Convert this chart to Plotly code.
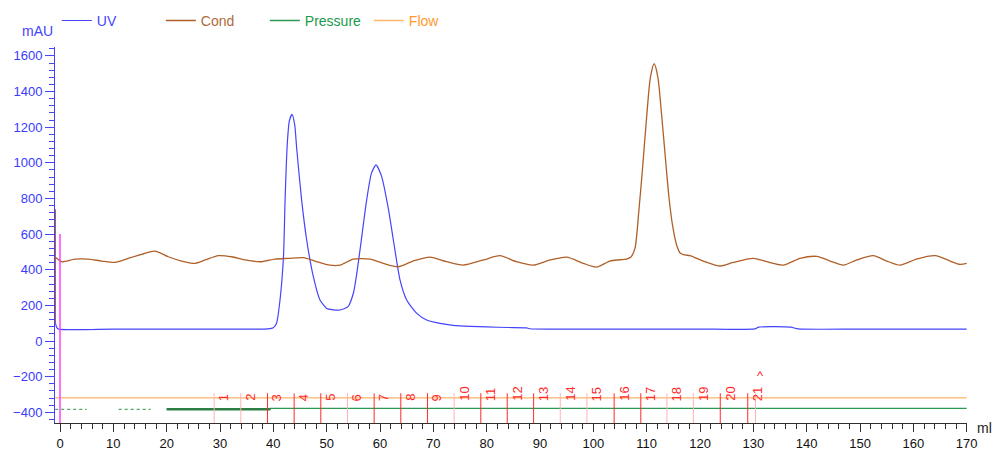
import plotly.graph_objects as go

# ---- UV absorbance trace (mAU) against elution volume (ml) ----
uv_x = [-0.9, -0.6, -0.3, 10.0, 20.0, 30.0, 37.5, 39.0, 40.0, 40.6, 41.25, 41.9, 42.2,
        42.6, 43.0, 43.5, 44.0, 44.4, 45.3, 46.25, 47.5, 48.75, 50.0, 51.0, 52.5, 54.0,
        55.0, 55.6, 56.25, 57.5, 58.4, 59.25, 60.3, 61.6, 62.5, 63.75, 65.0, 66.9, 68.75,
        71.25, 73.7, 77.0, 80.0, 84.0, 87.5, 88.0, 100.0, 110.0, 120.0, 130.3, 131.0,
        137.0, 138.4, 150.0, 160.0, 170.0]
uv_y = [105, 75, 67, 67, 67, 67, 67, 68, 75, 100, 230, 474, 790,
        1100, 1235, 1272, 1215, 1073, 792, 567, 361, 230, 183, 176, 174, 193,
        268, 370, 511, 792, 942, 989, 924, 736, 567, 343, 230, 155, 118,
        99, 88, 82, 79, 76, 74, 69, 67, 67, 67, 68, 78,
        78, 68, 67, 67, 67]

# ---- Conductivity trace ----
cond_start_x = [-0.9, -0.9]
cond_start_y = [740, 95]
cond_x = [-0.85, -0.6, 0.3, 2.8, 5.3, 7.8, 10.3, 12.8, 15.3, 17.8, 20.3, 22.8, 25.3,
          27.2, 29.7, 32.2, 34.7, 37.8, 40.3, 42.8, 45.6, 47.8, 50.6, 52.5, 55.0, 58.1,
          60.6, 63.4, 66.2, 69.4, 72.5, 75.6, 79.4, 82.5, 85.6, 88.7, 91.9, 95.0, 98.1,
          100.6, 103.1, 105.0, 106.2, 107.0, 107.8, 108.5, 109.2, 110.0, 110.7, 111.4,
          112.1, 112.8, 113.5, 114.2, 114.9, 115.6, 116.3, 117.2, 118.1, 120.6, 123.8,
          126.2, 130.0, 132.5, 135.6, 138.75, 141.9, 144.4, 146.9, 149.4, 152.5, 155.0,
          157.5, 160.6, 164.1, 166.9, 168.75, 170.0]
cond_y = [470, 464, 445, 460, 460, 449, 441, 464, 486, 505, 473, 449, 436,
          455, 479, 473, 455, 445, 460, 464, 468, 449, 426, 426, 460, 460,
          436, 417, 449, 471, 445, 426, 455, 479, 445, 426, 455, 471, 436,
          415, 449, 456, 460, 470, 520, 720, 960, 1260, 1480, 1556,
          1480, 1270, 1030, 800, 640, 540, 492, 483, 479, 449, 421,
          441, 464, 445, 426, 464, 475, 449, 426, 455, 479, 449,
          426, 460, 479, 449, 430, 436]

# ---- System pressure and flow ----
pressure_start_x = [-0.9, 5.0, None, 11.0, 17.0]
pressure_start_y = [-383, -383, None, -383, -383]
pressure_x = [20.0, 39.4, 39.4, 170.0]
pressure_y = [-383, -383, -378, -378]
flow_x = [-0.9, 170.0]
flow_y = [-319, -319]

# ---- Fraction collector marks ----
fraction_x = [28.9, 33.9, 38.9, 43.9, 48.9, 53.9, 58.9, 63.9, 68.9, 73.9, 78.9,
              83.85, 88.8, 93.8, 98.8, 103.9, 108.9, 113.8, 118.75, 123.8, 128.95]
fraction_labels = [str(n) for n in range(1, 22)]
fraction_end_x = 130.4
fraction_end_label = "^"
injection_x = 0.0

# styling
UV_C = "#4444ff"
COND_C = "#b05f28"
PRES_C = "#2a9a55"
FLOW_C = "#ffb469"
MARK_C = "#ff2a2a"
MARK_FAINT = "#ffb3b3"
faint_marks = {1, 2, 6, 10, 14, 15, 18, 19}

FONT = "Liberation Sans, Arial, sans-serif"

fig = go.Figure()

fig.add_trace(go.Scatter(x=uv_x, y=uv_y, mode="lines",
                         line=dict(color=UV_C, width=1.2, shape="spline", smoothing=0.6),
                         name=f"<span style='color:{UV_C}'>UV</span>"))
fig.add_trace(go.Scatter(x=cond_x, y=cond_y, mode="lines",
                         line=dict(color=COND_C, width=1.3, shape="spline", smoothing=0.7),
                         name="<span style='color:#b06a3a'>Cond</span>"))
fig.add_trace(go.Scatter(x=pressure_x, y=pressure_y, mode="lines",
                         line=dict(color=PRES_C, width=1.4),
                         name="<span style='color:#1a9a4a'>Pressure</span>"))
fig.add_trace(go.Scatter(x=flow_x, y=flow_y, mode="lines",
                         line=dict(color=FLOW_C, width=1.4),
                         name="<span style='color:#ff9a30'>Flow</span>"))

# extra pieces not shown in legend
fig.add_trace(go.Scatter(x=cond_start_x, y=cond_start_y, mode="lines",
                         line=dict(color=COND_C, width=1.5), showlegend=False))
fig.add_trace(go.Scatter(x=pressure_start_x, y=pressure_start_y, mode="lines",
                         line=dict(color="#4fa86a", width=1.2, dash="dot"),
                         showlegend=False))
fig.add_trace(go.Scatter(x=pressure_x[:2], y=pressure_y[:2], mode="lines",
                         line=dict(color="#2d7f45", width=2.4), showlegend=False))

# injection mark
fig.add_shape(type="line", xref="x", yref="y", x0=injection_x, x1=injection_x,
              y0=-460, y1=600, line=dict(color="#ff40ff", width=1.5))

# fraction marks with rotated labels
for i, (fx, lab) in enumerate(zip(fraction_x, fraction_labels), start=1):
    col = MARK_FAINT if i in faint_marks else MARK_C
    fig.add_shape(type="line", xref="x", yref="y", x0=fx, x1=fx, y0=-460, y1=-293,
                  line=dict(color=col, width=1))
    fig.add_annotation(x=fx, y=-348, xref="x", yref="y", text=lab, textangle=-90,
                       showarrow=False, xanchor="left", yanchor="bottom",
                       xshift=0, font=dict(family=FONT, size=13, color=MARK_C))
fig.add_shape(type="line", xref="x", yref="y", x0=fraction_end_x, x1=fraction_end_x,
              y0=-460, y1=-293, line=dict(color=MARK_FAINT, width=1))
fig.add_annotation(x=fraction_end_x, y=-196, xref="x", yref="y", text=fraction_end_label,
                   showarrow=False, xanchor="left", yanchor="middle",
                   font=dict(family=FONT, size=13, color=MARK_C))

# axis titles
fig.add_annotation(x=0, y=1.0426, xref="paper", yref="paper", text="mAU",
                   showarrow=False, xanchor="right", yanchor="middle",
                   font=dict(family=FONT, size=14, color=UV_C))
fig.add_annotation(x=1.0088, y=-0.013, xref="paper", yref="paper", text="ml",
                   showarrow=False, xanchor="left", yanchor="middle",
                   font=dict(family=FONT, size=14, color="#222222"))

fig.update_layout(
    width=992, height=450,
    margin=dict(l=55, r=25, t=47, b=27, autoexpand=False),
    paper_bgcolor="white", plot_bgcolor="white",
    font=dict(family=FONT, size=13, color="#222222"),
    hovermode=False,
    legend=dict(orientation="h", x=0.002, xanchor="left", y=1.112, yanchor="top",
                entrywidth=59, entrywidthmode="pixels", itemwidth=30,
                font=dict(family=FONT, size=14), bgcolor="rgba(0,0,0,0)"),
    xaxis=dict(range=[-0.94, 170.06], showgrid=False, zeroline=False,
               showline=True, linecolor="#303030", linewidth=1,
               ticks="outside", ticklen=8, tickwidth=1, tickcolor="#303030",
               tick0=0, dtick=10, tickfont=dict(family=FONT, size=13, color="#111111"),
               minor=dict(dtick=2, ticklen=5, tickcolor="#303030", ticks="outside",
                          showgrid=False)),
    yaxis=dict(range=[-460, 1650], showgrid=False, zeroline=False,
               showline=True, linecolor=UV_C, linewidth=1,
               ticks="outside", ticklen=9, tickwidth=1, tickcolor=UV_C,
               tick0=0, dtick=200, tickfont=dict(family=FONT, size=13, color="#3a3aff"),
               minor=dict(dtick=40, ticklen=5, tickcolor=UV_C, ticks="outside",
                          showgrid=False)),
)

fig.write_html("out.html", config={"displayModeBar": False})
